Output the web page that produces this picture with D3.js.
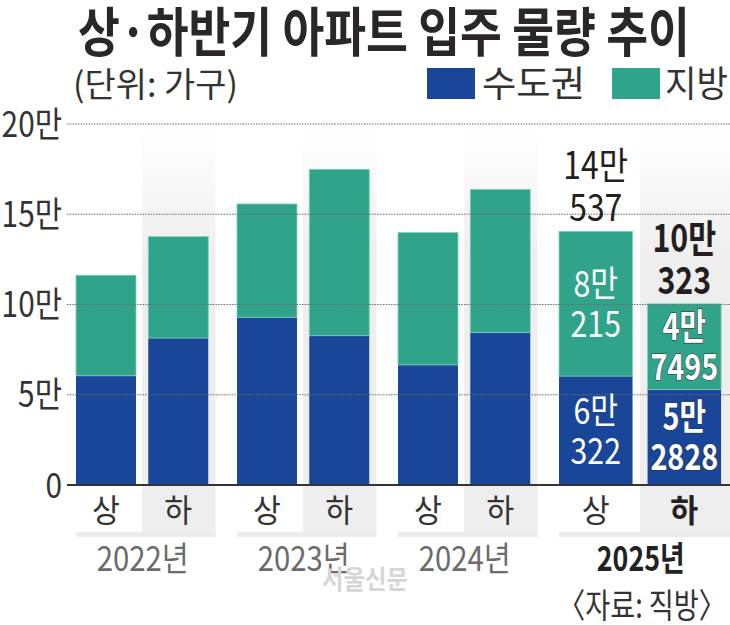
<!DOCTYPE html>
<html>
<head>
<meta charset="utf-8">
<script src="https://cdn.jsdelivr.net/npm/d3@7"></script>
<style>
  body { margin: 0; background: #fff; }
  text { font-family: "Noto Sans CJK KR", "Noto Sans", sans-serif; }
</style>
</head>
<body>
<div id="viz"></div>
<script>
// 상·하반기 아파트 입주 물량 추이

var width = 730, height = 625;

var years = ["2022년", "2023년", "2024년", "2025년"];
var halves = ["상", "하"];
// 8 half-year periods, in order 2022 상 ... 2025 하 (가구)
var metro = [60500, 81400, 92900, 82700, 66500, 84400, 60322, 52828];
var local = [55700, 56200, 62800, 92200, 73300, 79400, 80215, 47495];
var yTicks = [0, 50000, 100000, 150000, 200000];
var tickLabels = ["0", "5만", "10만", "15만", "20만"];

var blue = "#1a469a", green = "#30a48a";

var svg = d3.select("#viz")
	.append("svg")
		.attr("width", width)
		.attr("height", height);

var defs = svg.append("defs");
var grad = defs.append("linearGradient")
	.attr("id", "colbg")
	.attr("gradientUnits", "userSpaceOnUse")
	.attr("x1", 0).attr("y1", 128).attr("x2", 0).attr("y2", 260);
grad.append("stop").attr("offset", 0).attr("stop-color", "#ffffff");
grad.append("stop").attr("offset", 1).attr("stop-color", "#eeeeee");

var y = d3.scaleLinear().domain([0, 200000]).range([485, 124]);

var xYear = d3.scaleBand()
	.domain(years)
	.range([76, 698.5])
	.paddingInner(0.1335)
	.paddingOuter(0);

function groupW(yr) {
	return yr === years[years.length - 1] ? width - xYear(yr) : xYear.bandwidth();
}
function halfScale(yr) {
	var gw = groupW(yr);
	return d3.scaleBand().domain(halves).range([0, gw * 0.948]).paddingInner(0.17);
}

// condensed text helper
function ctext(parent, x, yy, str, o) {
	o = o || {};
	var g = parent.append("g");
	var t = g.append("text")
		.text(str)
		.attr("text-anchor", o.anchor || "middle")
		.attr("dy", "0.36em")
		.style("font-size", (o.size || 30) + "px")
		.style("font-weight", o.weight || 400)
		.style("fill", o.fill || "#2b2b2b");
	if (o.stroke) t.style("stroke", o.stroke).style("stroke-width", o.sw || 1).style("paint-order", "stroke");
	var sx = o.sx || 0.8;
	if (o.fit) sx = o.fit / t.node().getComputedTextLength();
	g.attr("transform", "translate(" + x + "," + yy + ") scale(" + sx + ",1)");
	return t;
}

var periods = [];
years.forEach(function (yr, yi) {
	halves.forEach(function (h, hi) {
		var i = yi * 2 + hi;
		periods.push({ year: yr, half: h, metro: metro[i], local: local[i], total: metro[i] + local[i], i: i });
	});
});

// backgrounds for 하 columns + strip under each group
years.forEach(function (yr) {
	var gx = xYear(yr), gw = groupW(yr), hs = halfScale(yr);
	var bx = gx + hs("하") - hs.step() * 0.085;
	svg.append("rect")
		.attr("x", bx).attr("y", 128)
		.attr("width", gx + gw - bx).attr("height", 485 - 128)
		.attr("fill", "url(#colbg)");
	svg.append("rect")
		.attr("x", bx).attr("y", 485)
		.attr("width", gx + gw - bx).attr("height", 52)
		.attr("fill", "#eeeeee");
	svg.append("rect")
		.attr("x", gx).attr("y", 532)
		.attr("width", gw).attr("height", 5)
		.attr("fill", "#ececec");
});

function barX(d) { return xYear(d.year) + halfScale(d.year)(d.half); }
function barW(d) { return halfScale(d.year).bandwidth(); }

svg.selectAll("rect.metro")
	.data(periods)
	.enter()
	.append("rect")
		.attr("class", "metro")
		.attr("x", barX)
		.attr("width", barW)
		.attr("y", function (d) { return y(d.metro); })
		.attr("height", function (d) { return y(0) - y(d.metro); })
		.attr("fill", blue);

svg.selectAll("rect.local")
	.data(periods)
	.enter()
	.append("rect")
		.attr("class", "local")
		.attr("x", barX)
		.attr("width", barW)
		.attr("y", function (d) { return y(d.total); })
		.attr("height", function (d) { return y(d.metro) - y(d.total); })
		.attr("fill", green)
		.attr("stroke", "#7fcfbb")
		.attr("stroke-width", 0.8);

// gridlines (drawn over bars)
svg.selectAll("line.grid")
	.data(yTicks.slice(1))
	.enter()
	.append("line")
		.attr("class", "grid")
		.attr("x1", 67).attr("x2", width)
		.attr("y1", function (d) { return y(d); })
		.attr("y2", function (d) { return y(d); })
		.attr("stroke", "#6a6a6a")
		.attr("stroke-width", 1)
		.attr("stroke-dasharray", "1.5,1.2");

svg.append("line")
	.attr("x1", 67).attr("x2", width)
	.attr("y1", y(0)).attr("y2", y(0))
	.attr("stroke", "#333")
	.attr("stroke-width", 2);

// y tick labels
yTicks.forEach(function (v, i) {
	ctext(svg, 62, y(v), tickLabels[i], { anchor: "end", size: 35, sx: 0.85, fill: "#333" });
});

// x labels
periods.forEach(function (d) {
	var bold = d.i === periods.length - 1;
	ctext(svg, barX(d) + barW(d) / 2, 510, d.half, { size: 32, sx: 0.95, weight: bold ? 700 : 400, fill: bold ? "#222" : "#333" });
});
years.forEach(function (yr, i) {
	var last = i === years.length - 1;
	ctext(svg, xYear(yr) + xYear.bandwidth() / 2 + (last ? 12 : -3), 559, yr,
		{ size: 34, fit: last ? 88 : 92, weight: last ? 700 : 400, fill: last ? "#222" : "#6b6b6b" });
});

// value labels for 2025
function split(v) { return [Math.floor(v / 10000) + "만", String(v % 10000)]; }
periods.filter(function (d) { return d.year === years[years.length - 1]; }).forEach(function (d) {
	var cx = barX(d) + barW(d) / 2;
	var bold = d.half === "하";
	var w = bold ? 700 : 400;
	var sx = bold ? 0.8 : 0.84;
	var t = split(d.total);
	ctext(svg, cx, y(d.total) - 66, t[0], { size: 38, sx: sx, weight: w, fill: "#231f20" });
	ctext(svg, cx, y(d.total) - 24, t[1], { size: 38, sx: sx, weight: w, fill: "#231f20" });
	var lm = (y(d.total) + y(d.metro)) / 2, bm = (y(d.metro) + y(0)) / 2;
	var l = split(d.local), m = split(d.metro);
	var st = bold ? { stroke: "#333", sw: 1.2 } : {};
	ctext(svg, cx, lm - 20, l[0], Object.assign({ size: 36, sx: sx, weight: w, fill: "#fff" }, st));
	ctext(svg, cx, lm + 20, l[1], Object.assign({ size: 36, sx: sx, weight: w, fill: "#fff" }, st));
	ctext(svg, cx, bm - 20, m[0], Object.assign({ size: 36, sx: sx, weight: w, fill: "#fff" }, st));
	ctext(svg, cx, bm + 20, m[1], Object.assign({ size: 36, sx: sx, weight: w, fill: "#fff" }, st));
});

// title, unit, legend
ctext(svg, 78, 33, "상·하반기 아파트 입주 물량 추이", { anchor: "start", size: 53, weight: 700, fit: 612, fill: "#2b2627" });
ctext(svg, 73, 85, "(단위: 가구)", { anchor: "start", size: 34, fit: 165, fill: "#333" });

svg.append("rect").attr("x", 427).attr("y", 68).attr("width", 48).attr("height", 31).attr("fill", blue);
ctext(svg, 482, 84, "수도권", { anchor: "start", size: 36, fit: 103, fill: "#333" });
svg.append("rect").attr("x", 612).attr("y", 68).attr("width", 48).attr("height", 31).attr("fill", green);
ctext(svg, 665, 84, "지방", { anchor: "start", size: 36, fit: 63, fill: "#333" });

// watermark and source
ctext(svg, 365, 580, "서울신문", { size: 26, fit: 86, weight: 700, fill: "#d6d6d6" });
ctext(svg, 558, 606, "〈자료: 직방〉", { anchor: "start", size: 34, fit: 168, fill: "#333" });

// The End
</script>
</body>
</html>
